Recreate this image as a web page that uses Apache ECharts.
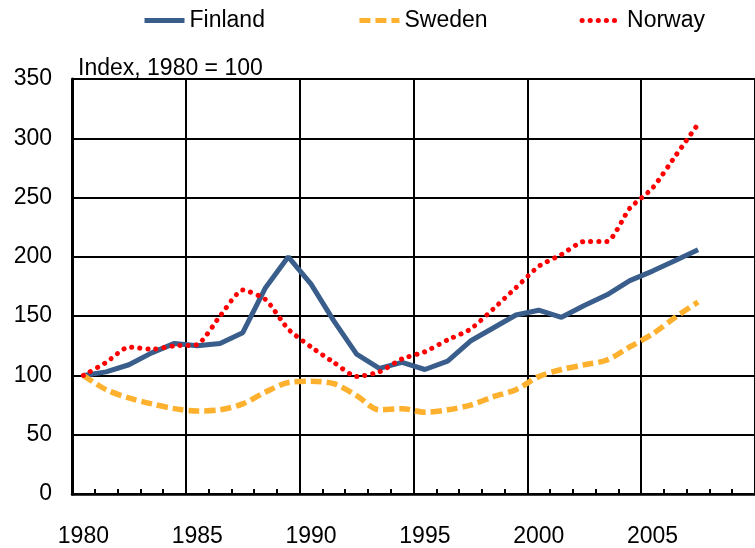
<!DOCTYPE html>
<html>
<head>
<meta charset="utf-8">
<script src="https://cdn.jsdelivr.net/npm/echarts@6/dist/echarts.min.js"></script>
<style>
  html, body { margin: 0; padding: 0; background: #fff; }
  #chart { width: 755px; height: 548px; }
</style>
</head>
<body>
<div id="chart"></div>
<script>
// categories: one per year, the axis runs on past the data to 2009
const years = ["1980", "1981", "1982", "1983", "1984", "1985", "1986", "1987", "1988", "1989",
  "1990", "1991", "1992", "1993", "1994", "1995", "1996", "1997", "1998", "1999",
  "2000", "2001", "2002", "2003", "2004", "2005", "2006", "2007", "2008", "2009"];

// Index, 1980 = 100
const finland = [100, 103, 109, 119, 127, 125, 127, 136, 174, 200, 177, 146, 118, 106,
  111, 105, 112, 129, 140, 151, 155, 149, 159, 168, 180, 188, 197, 206];
const sweden = [100, 88, 81, 76, 72, 70, 71, 76, 86, 94, 95, 93, 83, 71,
  72, 69, 71, 75, 82, 88, 99, 105, 109, 113, 124, 135, 149, 162];
const norway = [100, 111, 124, 122, 125, 126, 150, 172, 164, 139, 124, 111, 99, 103,
  114, 120, 130, 139, 156, 174, 192, 202, 213, 213, 241, 258, 285, 312];

const yMin = 0;
const yMax = 350;
const yStep = 50;

const font = "Liberation Sans, Arial, sans-serif";

const chart = echarts.init(document.getElementById("chart"));

const option = {
  animation: false,
  legend: {
    left: 137,
    top: 4,
    itemWidth: 40,
    itemHeight: 14,
    itemGap: 92,
    itemStyle: { opacity: 0 },
    lineStyle: { width: 5 },
    textStyle: { fontFamily: font, fontSize: 23, color: "#000" },
    data: ["Finland", "Sweden", "Norway"],
  },
  graphic: [
    {
      type: "text",
      left: 78,
      top: 57,
      style: { text: "Index, 1980 = 100", font: "23px " + font, fill: "#000" },
    },
  ],
  grid: {
    left: 72,
    top: 79,
    width: 687,
    height: 419,
  },
  xAxis: {
    type: "category",
    data: years,
    boundaryGap: true,
    axisLine: { lineStyle: { color: "#000", width: 2.5 } },
    axisTick: { show: true, inside: true, length: 5, interval: 0, lineStyle: { color: "#000", width: 2 } },
    axisLabel: { interval: 4, margin: 31, fontFamily: font, fontSize: 23, color: "#000" },
    splitLine: { show: true, interval: 4, lineStyle: { color: "#000", width: 2 } },
  },
  yAxis: {
    type: "value",
    min: yMin,
    max: yMax,
    interval: yStep,
    axisLine: { show: true, lineStyle: { color: "#000", width: 3 } },
    axisTick: { show: false },
    axisLabel: { margin: 20, padding: [0, 0, 0, 0], lineHeight: 30, verticalAlign: "middle", fontFamily: font, fontSize: 23, color: "#000" },
    splitLine: { show: true, lineStyle: { color: "#000", width: 2 } },
  },
  series: [
    {
      name: "Finland",
      type: "line",
      data: finland,
      symbol: "none",
      itemStyle: { color: "#3A5E8C" },
      lineStyle: { color: "#3A5E8C", width: 5 },
    },
    {
      name: "Sweden",
      type: "line",
      data: sweden,
      symbol: "none",
      smooth: 0.3,
      itemStyle: { color: "#FDB12E" },
      lineStyle: { color: "#FDB12E", width: 5.5, type: [11, 5] },
    },
    {
      name: "Norway",
      type: "line",
      data: norway,
      symbol: "none",
      smooth: 0.2,
      itemStyle: { color: "#FF0000" },
      lineStyle: { color: "#FF0000", width: 5, type: [0.1, 8], cap: "round" },
    },
  ],
};

chart.setOption(option);
</script>
</body>
</html>
